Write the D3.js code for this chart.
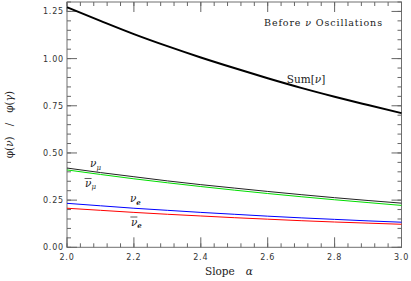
<!DOCTYPE html>
<head>
<meta charset="utf-8">
<style>
body { margin: 0; background: #fff; }
path.curve { fill: none; }
text.tl { font-family: "DejaVu Sans", sans-serif; font-size: 8px; letter-spacing: 0.8px; fill: #333; }
text.note { font-family: "DejaVu Serif", serif; fill: #222; white-space: pre; }
</style>
</head>
<body>
<script src="https://cdn.jsdelivr.net/npm/d3@7"></script>
<script>
// slope alpha and flux ratios phi(nu)/phi(gamma)
var alphas = [2.0, 2.1, 2.2, 2.3, 2.4, 2.5, 2.6, 2.7, 2.8, 2.9, 3.0];
var numu    = [0.420, 0.396, 0.374, 0.352, 0.332, 0.314, 0.296, 0.279, 0.263, 0.248, 0.234];
var numubar = [0.410, 0.386, 0.363, 0.342, 0.322, 0.303, 0.285, 0.268, 0.252, 0.237, 0.222];
var nue     = [0.233, 0.220, 0.207, 0.196, 0.185, 0.175, 0.165, 0.156, 0.148, 0.140, 0.133];
var nuebar  = [0.207, 0.196, 0.185, 0.175, 0.166, 0.157, 0.149, 0.141, 0.134, 0.128, 0.122];
var sumnu   = [1.272, 1.200, 1.130, 1.066, 1.006, 0.950, 0.896, 0.845, 0.798, 0.754, 0.711];

var xTicks = [2.0, 2.2, 2.4, 2.6, 2.8, 3.0];
var yTicks = [0.00, 0.25, 0.50, 0.75, 1.00, 1.25];

var width = 411, height = 281;
var pLeft = 67, pRight = 401.5, pTop = 2, pBottom = 247.3;

var svg = d3.select("body").append("svg")
    .attr("width", width)
    .attr("height", height);

var x = d3.scaleLinear().domain([2.0, 3.0]).range([pLeft, pRight]);
var y = d3.scaleLinear().domain([0, 1.3]).range([pBottom, pTop]);

var xMinor = d3.range(0, 26).map(function(i) { return 2.0 + i * 0.04; });
var yMinor = d3.range(0, 27).map(function(i) { return i * 0.05; });

// frame
svg.append("rect")
    .attr("x", pLeft).attr("y", pTop)
    .attr("width", pRight - pLeft)
    .attr("height", pBottom - pTop)
    .attr("fill", "none")
    .attr("stroke", "#707070");

// ticks on all four sides, pointing inward
function xTickMarks(vals, len, cls) {
  svg.selectAll("line.b" + cls).data(vals).enter().append("line")
      .attr("class", "b" + cls)
      .attr("x1", function(d) { return x(d); })
      .attr("x2", function(d) { return x(d); })
      .attr("y1", pBottom).attr("y2", pBottom - len)
      .attr("stroke", "#666").attr("stroke-width", 1);
  svg.selectAll("line.t" + cls).data(vals).enter().append("line")
      .attr("class", "t" + cls)
      .attr("x1", function(d) { return x(d); })
      .attr("x2", function(d) { return x(d); })
      .attr("y1", pTop).attr("y2", pTop + len)
      .attr("stroke", "#666").attr("stroke-width", 1);
}
function yTickMarks(vals, len, cls) {
  svg.selectAll("line.l" + cls).data(vals).enter().append("line")
      .attr("class", "l" + cls)
      .attr("y1", function(d) { return y(d); })
      .attr("y2", function(d) { return y(d); })
      .attr("x1", pLeft).attr("x2", pLeft + len)
      .attr("stroke", "#666").attr("stroke-width", 1);
  svg.selectAll("line.r" + cls).data(vals).enter().append("line")
      .attr("class", "r" + cls)
      .attr("y1", function(d) { return y(d); })
      .attr("y2", function(d) { return y(d); })
      .attr("x1", pRight).attr("x2", pRight - len)
      .attr("stroke", "#666").attr("stroke-width", 1);
}
xTickMarks(xMinor, 4, "minor");
xTickMarks(xTicks, 10, "major");
yTickMarks(yMinor, 4, "minor");
yTickMarks(yTicks, 10, "major");

// tick labels
svg.selectAll("text.xl").data(xTicks).enter().append("text")
    .attr("class", "tl xl")
    .attr("x", function(d) { return x(d); })
    .attr("y", pBottom + 12.5)
    .attr("text-anchor", "middle")
    .text(d3.format(".1f"));
svg.selectAll("text.yl").data(yTicks).enter().append("text")
    .attr("class", "tl yl")
    .attr("x", pLeft - 3)
    .attr("y", function(d) { return y(d) + 3; })
    .attr("text-anchor", "end")
    .text(d3.format(".2f"));

// curves
var series = [
  {vals: numu,    color: "#222",    width: 1},
  {vals: numubar, color: "#00dd00", width: 1},
  {vals: nue,     color: "#0000ff", width: 1},
  {vals: nuebar,  color: "#ff0000", width: 1},
  {vals: sumnu,   color: "#000",    width: 2}
];

var line = d3.line()
    .x(function(d) { return x(d[0]); })
    .y(function(d) { return y(d[1]); })
    .curve(d3.curveMonotoneX);

svg.selectAll("path.curve")
    .data(series)
    .enter()
    .append("path")
    .attr("class", "curve")
    .attr("stroke", function(d) { return d.color; })
    .attr("stroke-width", function(d) { return d.width; })
    .attr("d", function(d) {
        return line(alphas.map(function(a, i) { return [a, d.vals[i]]; }));
    });

// curve labels
function nuLabel(a, v, sub, bar) {
  var t = svg.append("text")
      .attr("class", "note")
      .attr("x", x(a))
      .attr("y", y(v))
      .style("font-size", "10.5px");
  t.append("tspan").style("font-style", "italic").text("ν");
  t.append("tspan")
      .attr("dy", 2.5)
      .style("font-size", "7px")
      .style("font-weight", sub == "e" ? "bold" : "normal")
      .style("font-style", "italic")
      .text(sub);
  if (bar) {
    svg.append("line")
        .attr("x1", x(a) - 0.5)
        .attr("x2", x(a) + 6.5)
        .attr("y1", y(v) - 8.5)
        .attr("y2", y(v) - 8.5)
        .attr("stroke", "#333")
        .attr("stroke-width", 0.8);
  }
}

nuLabel(2.069, 0.4255, "μ", false);
nuLabel(2.054, 0.3196, "μ", true);
nuLabel(2.188, 0.240, "e", false);
nuLabel(2.191, 0.1155, "e", true);

var sumText = svg.append("text")
    .attr("class", "note")
    .attr("x", x(2.657))
    .attr("y", y(0.870))
    .style("font-size", "10.5px");
sumText.append("tspan").text("Sum[");
sumText.append("tspan").style("font-style", "italic").text("ν");
sumText.append("tspan").text("]");

var title = svg.append("text")
    .attr("class", "note")
    .attr("x", x(2.589))
    .attr("y", y(1.173))
    .attr("textLength", 118)
    .style("font-size", "9.5px");
title.append("tspan").text("Before ");
title.append("tspan").style("font-style", "italic").text("ν");
title.append("tspan").text(" Oscillations");

// axis titles
var xl = svg.append("text")
    .attr("class", "note")
    .attr("x", 205)
    .attr("y", 274.5)
    .style("font-size", "10.5px");
xl.append("tspan").text("Slope");
xl.append("tspan").attr("dx", 11).style("font-style", "italic").text("α");

var yl = svg.append("text")
    .attr("class", "note")
    .attr("transform", "translate(13," + y(0.65) + ") rotate(-90)")
    .attr("text-anchor", "middle")
    .style("font-size", "10.5px");
yl.append("tspan").text("φ(");
yl.append("tspan").style("font-style", "italic").text("ν");
yl.append("tspan").text(")   /   φ(");
yl.append("tspan").style("font-style", "italic").text("γ");
yl.append("tspan").text(")");
</script>
</body>
</html>
